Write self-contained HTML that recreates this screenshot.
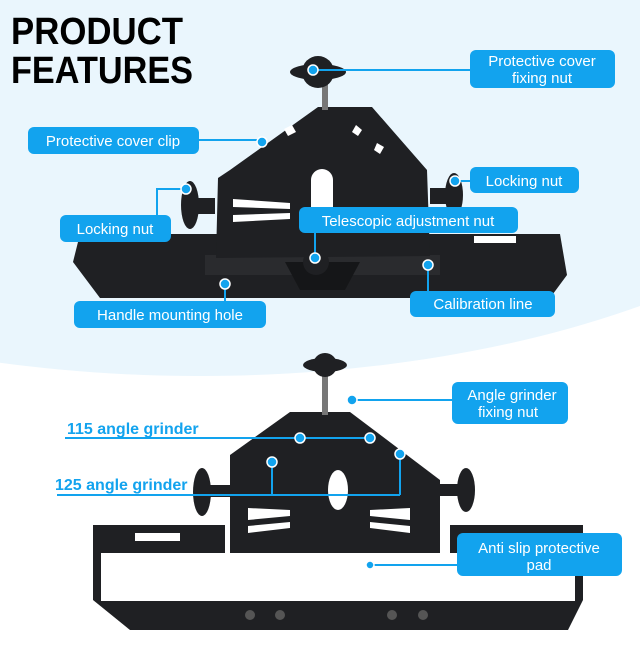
<!DOCTYPE html>
<html><head><meta charset="utf-8"><style>
body{margin:0;width:640px;height:640px;overflow:hidden;background:#fff;font-family:"Liberation Sans",sans-serif}
</style></head><body>
<svg width="640" height="640" viewBox="0 0 640 640" xmlns="http://www.w3.org/2000/svg" font-family="Liberation Sans, sans-serif">
<rect width="640" height="640" fill="#fff"/>
<ellipse cx="200" cy="40" rx="720" ry="336" fill="#eaf6fd"/>
<text x="11" y="44" font-size="38" font-weight="bold" fill="#000" textLength="172" lengthAdjust="spacingAndGlyphs">PRODUCT</text>
<text x="11" y="83" font-size="38" font-weight="bold" fill="#000" textLength="182" lengthAdjust="spacingAndGlyphs">FEATURES</text>

<!-- product 1 -->
<g fill="#1f2023">
<polygon points="80,234 560,234 567,275 550,298 100,298 73,262"/>
<rect x="205" y="255" width="235" height="20" fill="#2a2b2e"/>
<polygon points="285,262 360,262 345,290 300,290" fill="#151618"/>
<polygon points="218,178 230,170 318,107 372,107 427,170 430,256 216,258"/>
<rect x="322" y="80" width="6" height="30" fill="#777"/>
<circle cx="318" cy="72" r="16"/><ellipse cx="318" cy="72" rx="28" ry="8"/>
<ellipse cx="190" cy="205" rx="9" ry="24"/><rect x="195" y="198" width="20" height="16"/>
<ellipse cx="454" cy="195" rx="9" ry="22"/><rect x="430" y="188" width="22" height="16"/>
<circle cx="316" cy="262" r="13"/>
</g>
<g fill="#fff">
<path d="M311,233 V180 a11,11 0 0 1 22,0 V233 Z"/>
<polygon points="233,199 290,203 290,209 233,207"/>
<polygon points="233,215 290,213 290,219 233,222"/>
<rect x="474" y="236" width="42" height="7"/>
<polygon points="284,129 292,125 296,132 288,136"/><polygon points="356,125 362,130 358,136 352,132"/><polygon points="377,143 384,147 380,154 374,150"/>
</g>

<!-- product 2 -->
<g fill="#1f2023">
<polygon points="93,525 225,525 225,553 583,553 583,600 568,630 130,630 93,600"/>
<rect x="450" y="525" width="133" height="28"/>
<rect x="101" y="553" width="474" height="48" fill="#fff"/>
<polygon points="230,455 290,412 350,412 440,480 440,553 230,553"/>
<rect x="322" y="375" width="6" height="40" fill="#777"/>
<circle cx="325" cy="365" r="12"/><ellipse cx="325" cy="365" rx="22" ry="7"/>
<ellipse cx="202" cy="492" rx="9" ry="24"/><rect x="207" y="485" width="25" height="12"/>
<ellipse cx="466" cy="490" rx="9" ry="22"/><rect x="440" y="484" width="26" height="12"/>
<circle cx="352" cy="400" r="5" fill="#999"/>
</g>
<g fill="#fff">
<ellipse cx="338" cy="490" rx="10" ry="20"/>
<polygon points="248,508 290,510 290,516 248,520"/><polygon points="248,526 290,522 290,528 248,533"/>
<polygon points="370,510 410,508 410,520 370,516"/><polygon points="370,522 410,526 410,533 370,528"/>
<rect x="135" y="533" width="45" height="8"/>
</g>
<g fill="#555"><circle cx="250" cy="615" r="5"/><circle cx="280" cy="615" r="5"/><circle cx="392" cy="615" r="5"/><circle cx="423" cy="615" r="5"/></g>

<!-- labels -->
<g fill="#12a3ee" stroke="none">
<rect x="470" y="50" width="145" height="38" rx="6"/>
<rect x="28" y="127" width="171" height="27" rx="6"/>
<rect x="470" y="167" width="109" height="26" rx="6"/>
<rect x="60" y="215" width="111" height="27" rx="6"/>
<rect x="299" y="207" width="219" height="26" rx="6"/>
<rect x="74" y="301" width="192" height="27" rx="6"/>
<rect x="410" y="291" width="145" height="26" rx="6"/>
<rect x="452" y="382" width="116" height="42" rx="6"/>
<rect x="457" y="533" width="165" height="43" rx="6"/>
</g>
<g stroke="#12a3ee" stroke-width="2" fill="none">
<path d="M313,70 H470"/><path d="M199,140 H262"/><path d="M455,181 H470"/>
<path d="M186,189 H157 V215"/><path d="M315,233 V258"/><path d="M225,284 V301"/><path d="M428,265 V291"/>
<path d="M352,400 H452"/><path d="M370,565 H457"/>
<path d="M65,438 H370"/>
<path d="M57,495 H400"/><path d="M272,462 V495"/><path d="M400,454 V495"/>
</g>
<g fill="#fff" font-size="15">
<text x="542" y="66" text-anchor="middle">Protective cover</text>
<text x="542" y="83" text-anchor="middle">fixing nut</text>
<text x="113" y="146" text-anchor="middle">Protective cover clip</text>
<text x="524" y="186" text-anchor="middle">Locking nut</text>
<text x="115" y="234" text-anchor="middle">Locking nut</text>
<text x="408" y="226" text-anchor="middle">Telescopic adjustment nut</text>
<text x="170" y="320" text-anchor="middle">Handle mounting hole</text>
<text x="483" y="309" text-anchor="middle">Calibration line</text>
<text x="512" y="400" text-anchor="middle">Angle grinder</text>
<text x="508" y="417" text-anchor="middle">fixing nut</text>
<text x="539" y="553" text-anchor="middle">Anti slip protective</text>
<text x="539" y="570" text-anchor="middle">pad</text>
</g>
<g fill="#12a3ee" font-size="16" font-weight="bold">
<text x="67" y="434">115 angle grinder</text>
<text x="55" y="490">125 angle grinder</text>
</g>
<g fill="#12a3ee" stroke="#fff" stroke-width="1.5">
<circle cx="313" cy="70" r="5"/><circle cx="262" cy="142" r="5"/><circle cx="455" cy="181" r="5"/>
<circle cx="186" cy="189" r="5"/><circle cx="315" cy="258" r="5"/><circle cx="225" cy="284" r="5"/><circle cx="428" cy="265" r="5"/>
<circle cx="352" cy="400" r="5"/><circle cx="300" cy="438" r="5"/><circle cx="370" cy="438" r="5"/>
<circle cx="272" cy="462" r="5"/><circle cx="400" cy="454" r="5"/><circle cx="370" cy="565" r="4"/>
</g>
</svg>
</body></html>
